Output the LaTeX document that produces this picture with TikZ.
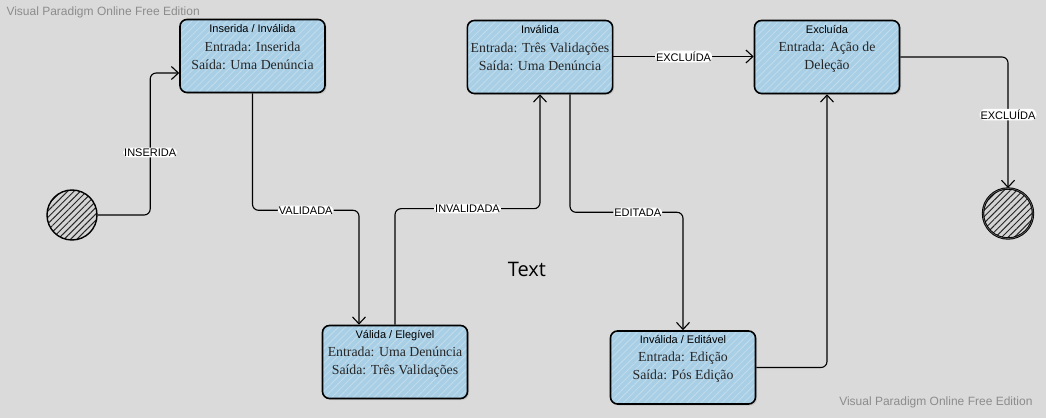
\documentclass[tikz,border=0pt]{standalone}
\usepackage{fontspec}
\setmainfont{Liberation Serif}
\setsansfont{Liberation Sans}
\newfontfamily\notefont{Open Sans}
\usepackage{tikz}
\usetikzlibrary{positioning}
\usetikzlibrary{arrows.meta}
\usetikzlibrary{patterns.meta}
\usetikzlibrary{shadows}

\definecolor{bggray}{HTML}{DADADA}
\definecolor{boxblue}{HTML}{A8CFE6}
\definecolor{hatchblue}{HTML}{C3DCEB}
\definecolor{dotgray}{HTML}{D4D4D4}
\definecolor{marktext}{HTML}{8C8C8C}
\definecolor{bodytext}{HTML}{262626}

\begin{document}
\begin{tikzpicture}[x=1pt,y=1pt,on grid,
    statebox/.style={draw, line width=1.6pt, rounded corners=7pt,
      drop shadow={shadow xshift=1.5pt, shadow yshift=-1.5pt, opacity=0.25},
      preaction={fill=boxblue},
      preaction={pattern={Lines[angle=45,distance=5pt,line width=0.8pt]}, pattern color=hatchblue},
      minimum width=145pt, minimum height=73pt, align=center, text=bodytext,
      font=\fontsize{13.8}{18}\selectfont},
    title/.style={anchor=north, yshift=-2pt, text=black, font=\sffamily\fontsize{11}{13}\selectfont},
    startdot/.style={circle, draw, line width=1.4pt, minimum size=50pt,
      preaction={fill=dotgray},
      preaction={pattern={Lines[angle=45,distance=4.5pt,line width=1pt]}, pattern color=black!85}},
    enddot/.style={startdot, line width=0.9pt, double=black!60, double distance=0.6pt},
    conn/.style={-{Straight Barb[length=7pt,width=13pt]}, line width=1.1pt, rounded corners=6pt},
    lbl/.style={fill=white, inner sep=1pt, font=\sffamily\fontsize{11}{12}\selectfont},
    watermark/.style={text=marktext, font=\sffamily\fontsize{12}{14}\selectfont}]
    % \draw[help lines] (0,0) grid (1046,418);

    \fill[bggray] (0,0) rectangle (1046,418);
    \useasboundingbox (0,0) rectangle (1046,418);

    \node[startdot] at (72,203)                                      (s_0) {};
    \node[statebox, label={[title]north:Inserida / Inválida}, above right=159pt and 180.5pt of s_0]
                                                                     (s_1) {Entrada: Inserida\\Saída: Uma Denúncia};
    \node[statebox, label={[title]north:Válida / Elegível}, below right=306pt and 142.5pt of s_1]
                                                                     (s_2) {Entrada: Uma Denúncia\\Saída: Três Validações};
    \node[statebox, label={[title]north:Inválida}, above right=305pt and 145pt of s_2]
                                                                     (s_3) {Entrada: Três Validações\\Saída: Uma Denúncia};
    \node[statebox, label={[title]north:Inválida / Editável}, below right=310.5pt and 143pt of s_3]
                                                                     (s_4) {Entrada: Edição\\Saída: Pós Edição};
    \node[statebox, label={[title]north:Excluída}, right=287pt of s_3]
                                                                     (s_5) {Entrada: Ação de\\Deleção};
    \node[enddot, below right=156.5pt and 181pt of s_5]              (s_6) {};

    \node[font=\notefont\fontsize{20}{24}\selectfont] at (527,149)   (txt) {Text};
    \node[watermark, anchor=west] at (3,406)                         (wm_1) {Visual Paradigm Online Free Edition};
    \node[watermark, anchor=east] at (1036,16)                       (wm_2) {Visual Paradigm Online Free Edition};

    \draw[conn] (s_0.east) -| node[lbl, pos=0.72] {INSERIDA} ([xshift=-29pt,yshift=-17pt]s_1.west)
                -- ([yshift=-17pt]s_1.west);
    \draw[conn] (s_1.south) -- ++(0,-117) -| node[lbl, pos=0.25] {VALIDADA} ([xshift=-36pt]s_2.north);
    \draw[conn] (s_2.north) -- ++(0,116) -| node[lbl, pos=0.25] {INVALIDADA} (s_3.south);
    \draw[conn] ([xshift=30pt]s_3.south) -- ++(0,-118) -| node[lbl, pos=0.3] {EDITADA} (s_4.north);
    \draw[conn] ([yshift=0.5pt]s_3.east) -- node[lbl] {EXCLUÍDA} ([yshift=0.5pt]s_5.west);
    \draw[conn] (s_4.east) -| (s_5.south);
    \draw[conn] (s_5.east) -| node[lbl, pos=0.72] {EXCLUÍDA} (s_6.north);
\end{tikzpicture}
\end{document}
